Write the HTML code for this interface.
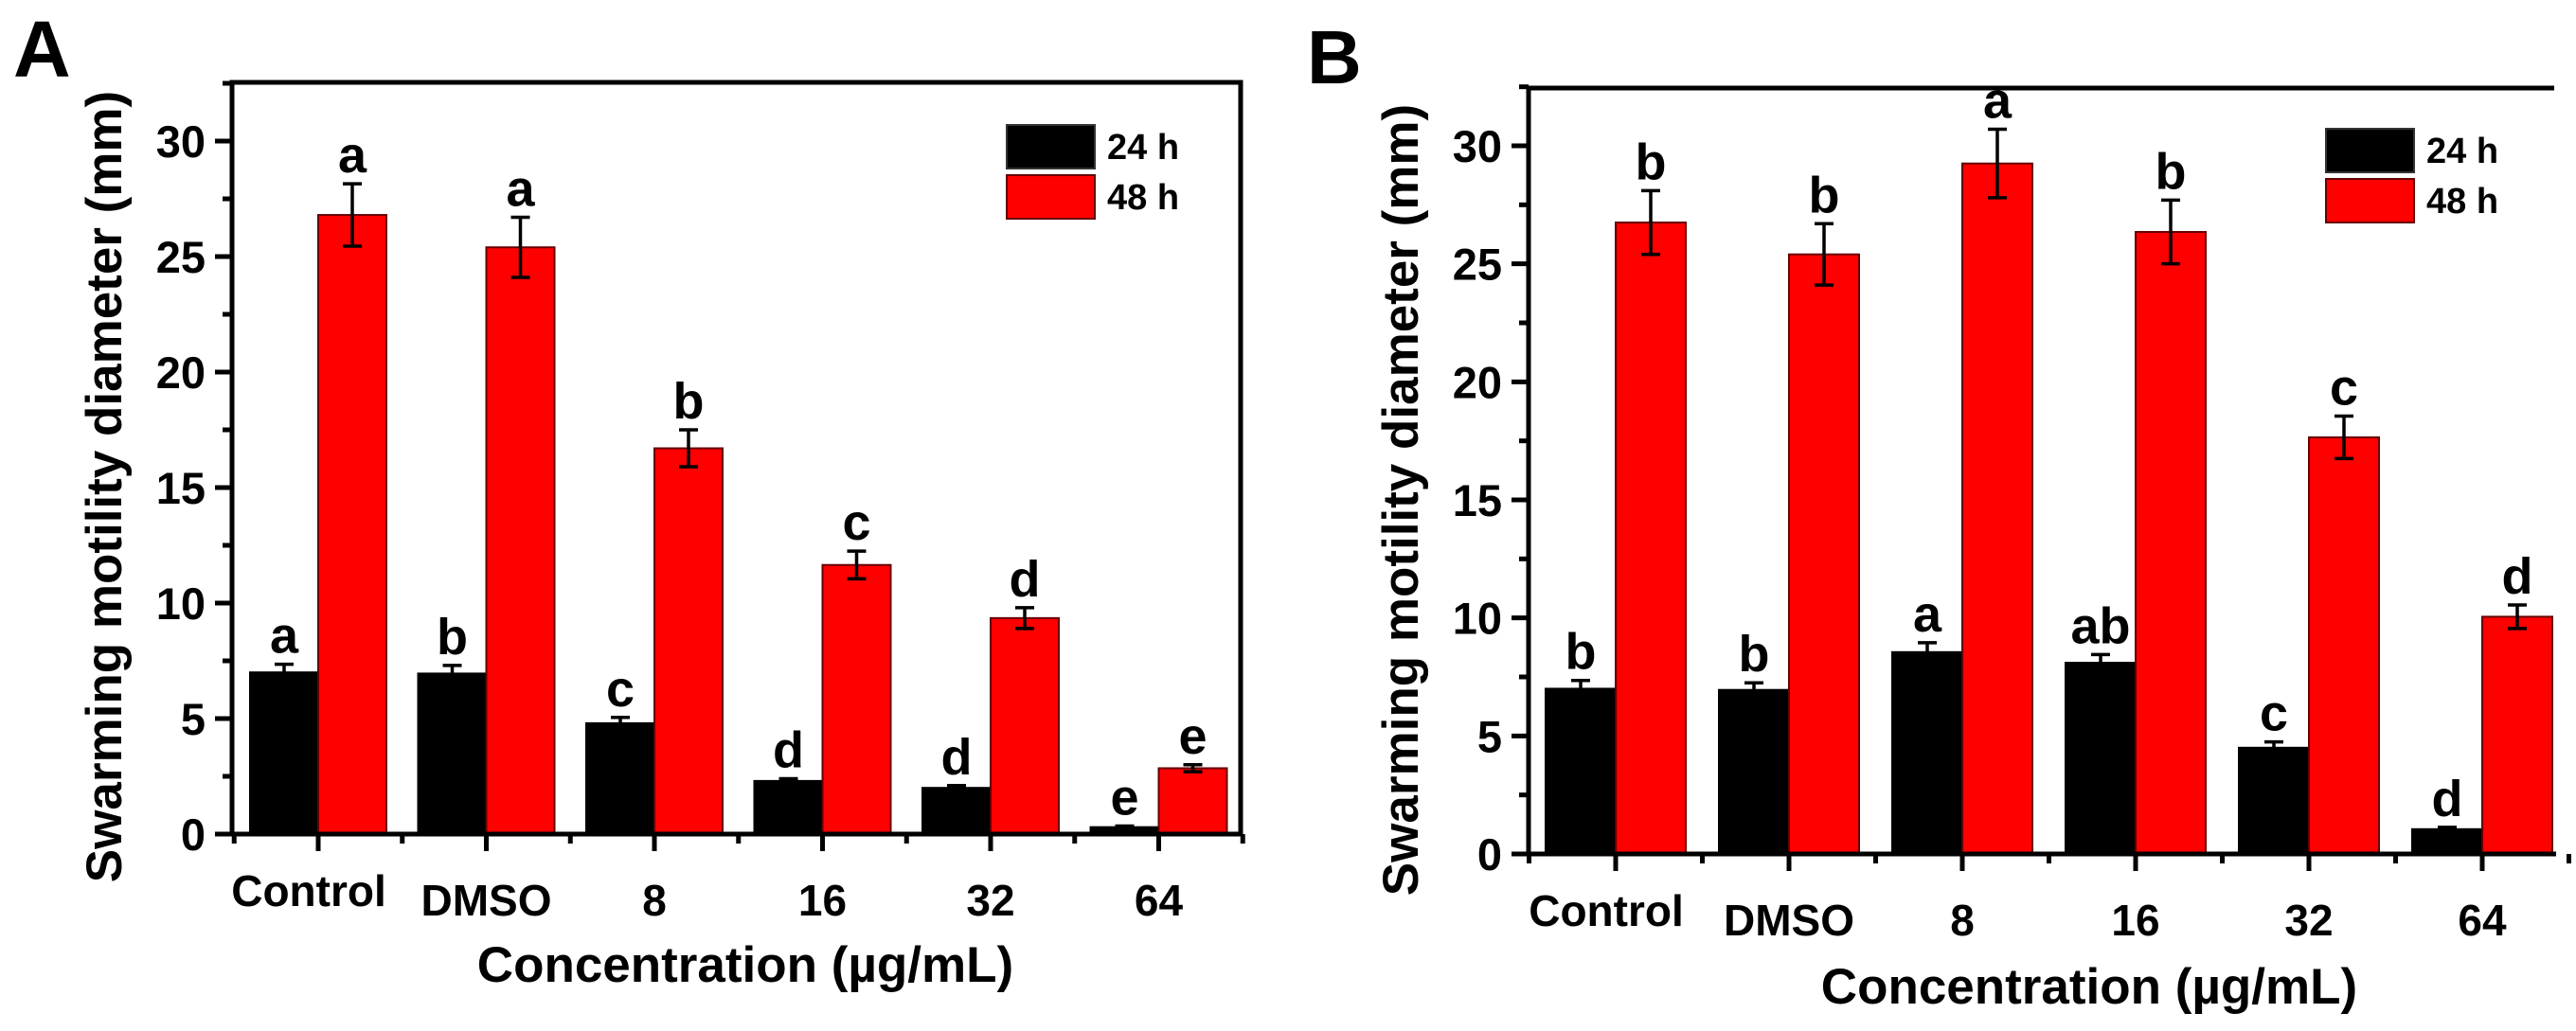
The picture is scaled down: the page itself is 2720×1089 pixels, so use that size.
<!DOCTYPE html>
<html><head><meta charset="utf-8"><style>
html,body{margin:0;padding:0;background:#fff;}
svg{display:block;}
text{font-family:"Liberation Sans",Arial,sans-serif;font-weight:bold;fill:#000;}
</style></head>
<body>
<svg id="chart" width="2720" height="1089" viewBox="0 0 2720 1089" xmlns="http://www.w3.org/2000/svg">
<text x="14" y="81" font-size="84">A</text>
<text x="1380" y="88" font-size="80">B</text>
</svg>
<script>
const categories = ["Control","DMSO","8","16","32","64"];
const yTicks = [0,5,10,15,20,25,30];
const yTickLabels = ["0","5","10","15","20","25","30"];
const seriesNames = ["24 h","48 h"];
const a24 = [7.0, 6.95, 4.8, 2.3, 2.0, 0.3];
const a24err = [0.35, 0.35, 0.25, 0.1, 0.1, 0.05];
const a48 = [26.8, 25.4, 16.7, 11.65, 9.35, 2.85];
const a48err = [1.35, 1.3, 0.8, 0.6, 0.45, 0.15];
const a24letters = ["a","b","c","d","d","e"];
const a48letters = ["a","a","b","c","d","e"];
const b24 = [7.0, 6.95, 8.55, 8.1, 4.5, 1.05];
const b24err = [0.35, 0.3, 0.4, 0.35, 0.25, 0.08];
const b48 = [26.75, 25.4, 29.25, 26.35, 17.65, 10.05];
const b48err = [1.35, 1.3, 1.45, 1.35, 0.9, 0.5];
const b24letters = ["b","b","a","ab","c","d"];
const b48letters = ["b","b","a","b","c","d"];

const NS = "http://www.w3.org/2000/svg";
const svg = document.getElementById('chart');
function mk(tag, attrs, parent){
  const e = document.createElementNS(NS, tag);
  for (const k in attrs) e.setAttribute(k, attrs[k]);
  (parent||svg).appendChild(e);
  return e;
}

function panel(p){
  const g = mk('g', {});
  
  
  const y = v => p.y0 - v * (p.y0 - p.y30) / 30;
  const x = i => p.c0 + i * p.step;
  const bw = p.bw;
  // bars
  const series = [[p.s24, p.e24, p.l24, '#000', -bw], [p.s48, p.e48, p.l48, '#ff0000', 0]];
  series.forEach((s, si) => {
    s[0].forEach((v, i) => {
      const bx = x(i) + s[4];
      const r = mk('rect', {x: bx, y: y(v), width: bw, height: y(0) - y(v), fill: s[3], stroke: si ? '#600' : '#000', 'stroke-width': 2}, g);
      
      
      const cx = bx + bw / 2;
      const eb = mk('path', {d: `M${cx},${y(v + s[1][i])}V${y(v - s[1][i])}M${cx-10},${y(v + s[1][i])}H${cx+10}M${cx-10},${y(v - s[1][i])}H${cx+10}`, stroke: '#000', 'stroke-width': 3.5, fill: 'none'}, g);
      
      
      const t = mk('text', {x: cx, y: y(v + s[1][i]) - 12, 'font-size': 54, 'text-anchor': 'middle'}, g);
      t.textContent = s[2][i];
      
      
    });
  });
  // frame
  const fr = mk('path', {d: `M${p.left},${y(0)}V${p.top}H${p.right}` + (p.rightLine ? `V${y(0)}` : ''), stroke: '#000', 'stroke-width': 5, fill: 'none'}, g);
  
  
  const xa = mk('line', {x1: p.left - 2, x2: p.right + 2, y1: y(0), y2: y(0), stroke: '#000', 'stroke-width': 5}, g);
  
  
  // y ticks
  yTicks.forEach((v, i) => {
    mk('line', {x1: p.left - 18, x2: p.left, y1: y(v), y2: y(v), stroke: '#000', 'stroke-width': 5}, g);
    mk('line', {x1: p.left - 10, x2: p.left, y1: y(v + 2.5), y2: y(v + 2.5), stroke: '#000', 'stroke-width': 5}, g);
    const t = mk('text', {x: p.left - 28, y: y(v) + 17, 'font-size': 47, 'text-anchor': 'end'}, g);
    t.textContent = yTickLabels[i];
    
    
  });
  // x ticks & labels
  categories.forEach((c, i) => {
    mk('line', {x1: x(i), x2: x(i), y1: y(0), y2: y(0) + 18, stroke: '#000', 'stroke-width': 5}, g);
    mk('line', {x1: x(i) - p.step / 2, x2: x(i) - p.step / 2, y1: y(0), y2: y(0) + 10, stroke: '#000', 'stroke-width': 5}, g);
    const t = mk('text', {x: x(i) + (i === 0 ? -10 : 0), y: p.labY - (i === 0 ? 10 : 0), 'font-size': 46, 'text-anchor': 'middle'}, g);
    t.textContent = c;
    
    
  });
  mk('line', {x1: x(5) + p.step / 2, x2: x(5) + p.step / 2, y1: y(0), y2: y(0) + 10, stroke: '#000', 'stroke-width': 5}, g);
  const xt = mk('text', {x: p.titleX, y: p.titleY, 'font-size': 53, 'text-anchor': 'middle'}, g);
  xt.textContent = 'Concentration (\u00b5g/mL)';
  
  
  const yt = mk('text', {x: 0, y: 0, 'font-size': 53, 'text-anchor': 'middle', transform: `translate(${p.yTitleX},${p.yTitleY}) rotate(-90)`}, g);
  yt.textContent = 'Swarming motility diameter (mm)';
  
  
  // legend
  ['#000', '#ff0000'].forEach((col, i) => {
    const r = mk('rect', {x: p.legX, y: p.legY + i * 53, width: 93, height: 46, fill: col, stroke: i ? '#600' : '#333', 'stroke-width': 2}, g);
    
    
    const t = mk('text', {x: p.legX + 106, y: p.legY + i * 53 + 36, 'font-size': 38}, g);
    t.textContent = seriesNames[i];
    
    
  });
}

panel({name: 'panel-a-chart', y0: 881, y30: 149, c0: 336, step: 177.5, bw: 72, left: 245, top: 87, right: 1310, rightLine: true,
  s24: a24, e24: a24err, l24: a24letters, s48: a48, e48: a48err, l48: a48letters,
  labY: 967, titleX: 787, titleY: 1037, yTitleX: 128, yTitleY: 514, legX: 1063, legY: 132});
panel({name: 'panel-b-chart', y0: 902, y30: 154, c0: 1706, step: 183, bw: 74, left: 1614, top: 93, right: 2697, rightLine: false,
  s24: b24, e24: b24err, l24: b24letters, s48: b48, e48: b48err, l48: b48letters,
  labY: 988, titleX: 2206, titleY: 1060, yTitleX: 1497, yTitleY: 528, legX: 2456, legY: 136});
</script>
</body></html>
